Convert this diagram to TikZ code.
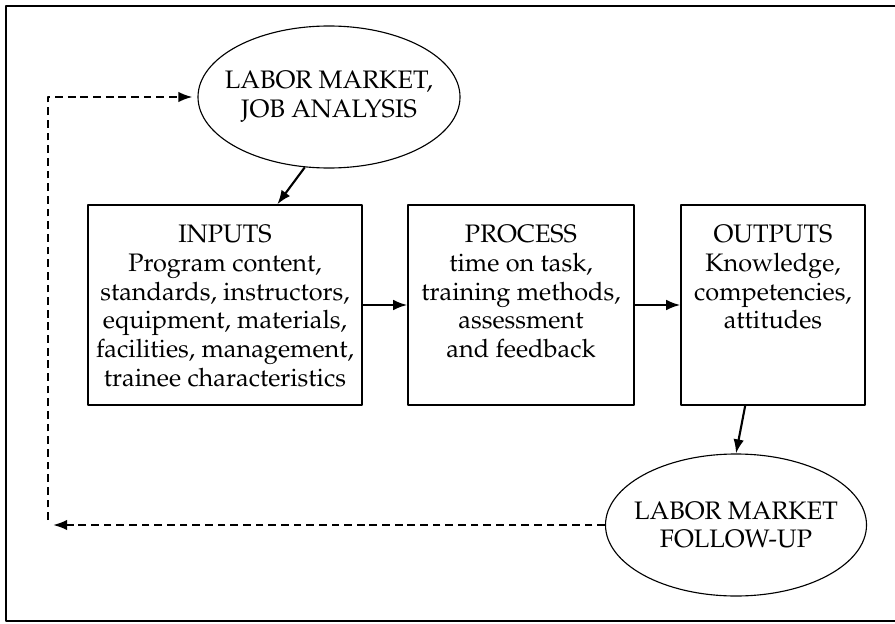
\documentclass[tikz,border=0pt]{standalone}
\usepackage[T1]{fontenc}
\usepackage{mathpazo}
\usepackage{tkz-euclide}
\usetikzlibrary{arrows.meta,calc,shapes.geometric}

\tikzset{
  market/.style={draw,ellipse,line width=.8pt,inner xsep=-.3cm,inner ysep=0pt,
    minimum width=6.55cm,minimum height=3.55cm,align=center},
  stage/.style={draw,rectangle,line width=1pt,inner sep=0pt,minimum height=5cm},
  stagetext/.style={anchor=north,inner sep=0pt,align=center},
  flow/.style={line width=1.5pt,-{Latex[length=10pt,width=7.5pt]}},
  back/.style={line width=1.6pt,dash pattern=on 5.5pt off 3.5pt,
    -{Latex[length=10pt,width=7.5pt]}}
}

\begin{document}
\begin{tikzpicture}[line join=round,font=\fontsize{18}{20.6}\selectfont]
    \useasboundingbox (0,0) rectangle (22.375,15.575);
    \tkzDefPoints{8.225/13.15/J,5.625/7.95/I,13.025/7.95/P,19.325/7.95/O,18.4/2.45/F}
    \tkzDefPoints{1.2/2.575/Q}
    % frame, open to the right
    \draw[line width=2pt] (22.375,15.425) -- (.15,15.425) -- (.15,.05) -- (22.375,.05);
    \node[market] (job) at (J) {LABOR MARKET,\\JOB ANALYSIS};
    \node[market,minimum width=6.525cm] (follow) at (F) {LABOR MARKET\\FOLLOW-UP};
    \node[stage,minimum width=6.85cm] (inputs) at (I) {};
    \node[stage,minimum width=5.65cm] (process) at (P) {};
    \node[stage,minimum width=4.6cm] (outputs) at (O) {};
    \node[stagetext] (inputs-txt) at ([yshift=-.5cm]inputs.north)
      {INPUTS\\Program content,\\standards, instructors,\\equipment, materials,\\facilities, management,\\trainee characteristics};
    \node[stagetext] (process-txt) at ([yshift=-.5cm]process.north)
      {PROCESS\\time on task,\\training methods,\\assessment\\and feedback};
    \node[stagetext] (outputs-txt) at ([yshift=-.5cm]outputs.north)
      {OUTPUTS\\Knowledge,\\competencies,\\attitudes};
    \draw[flow] (job.-109) -- ($(inputs.north west)!.69!(inputs.north east)$);
    \draw[flow] (inputs) -- (process);
    \draw[flow] (process) -- (outputs);
    \draw[flow] ($(outputs.south west)!.35!(outputs.south east)$) -- (follow.north);
    % feedback loop
    \draw[back] (follow.west) -- ([xshift=.125cm]follow.west -| Q);
    \draw[back,shorten >=3.5pt] (Q) |- (job.west);
\end{tikzpicture}
\end{document}
